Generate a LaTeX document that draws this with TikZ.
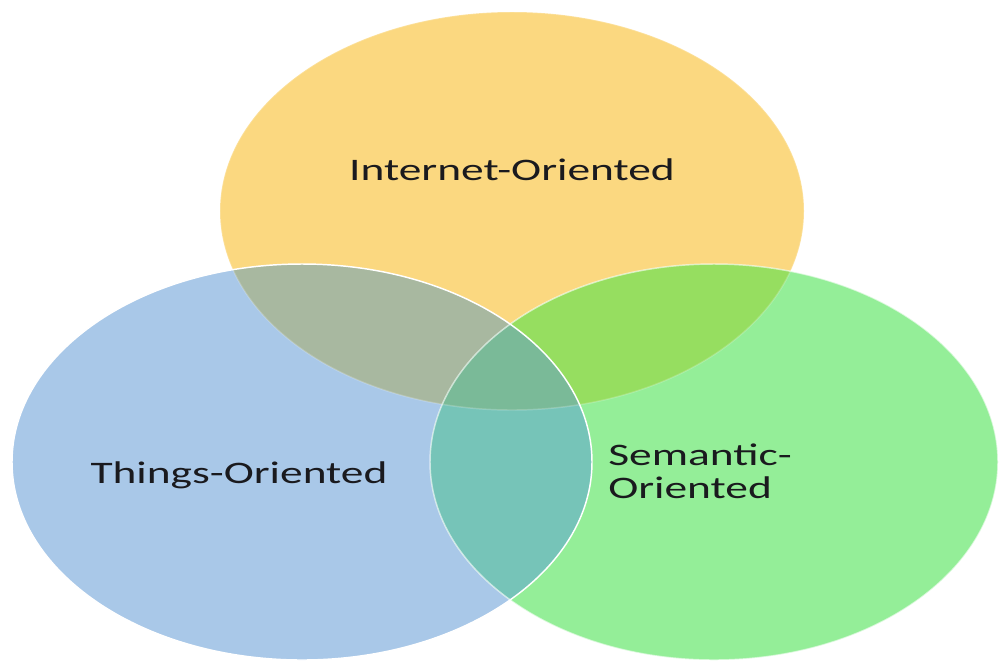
\documentclass[tikz,border=0pt]{standalone}
\usepackage{fontspec}
\setmainfont{Carlito}
\definecolor{cY}{HTML}{FBD880}
\definecolor{cB}{HTML}{A9C8E8}
\definecolor{cG}{HTML}{94EE98}
\definecolor{cYB}{HTML}{A8B8A0}
\definecolor{cYG}{HTML}{96DE60}
\definecolor{cBG}{HTML}{76C4B8}
\definecolor{cC}{HTML}{7ABA98}
\definecolor{txt}{HTML}{1A1A1E}
\begin{document}
\begin{tikzpicture}[x=0.75pt,y=-0.75pt,
  lbl/.style={text=txt,font=\fontsize{23.5}{24.8}\selectfont,inner sep=0pt},
  rim/.style={draw=white,line width=1.1pt}]
\useasboundingbox (0,0) rectangle (999,662);
\def\Ypath{(512,211) ellipse [x radius=292,y radius=199]}
\def\Bpath{(302,462) ellipse [x radius=290,y radius=198]}
\def\Gpath{(714,462) ellipse [x radius=284,y radius=198]}
% base fills
\fill[cY] \Ypath;
\fill[cB] \Bpath;
\fill[cG] \Gpath;
% pairwise overlaps
\begin{scope}\clip \Ypath; \fill[cYB] \Bpath; \end{scope}
\begin{scope}\clip \Ypath; \fill[cYG] \Gpath; \end{scope}
\begin{scope}\clip \Bpath; \fill[cBG] \Gpath; \end{scope}
\begin{scope}\clip \Ypath; \clip \Bpath; \fill[cC] \Gpath; \end{scope}
% rims
\draw[rim,draw opacity=0.2] \Ypath;
\draw[rim,draw opacity=0.6] \Gpath;
\draw[rim] \Bpath;
% labels
\node[lbl] (inet) at (512,170) {\scalebox{1.45}[1]{Internet-Oriented}};
\node[lbl] (things) at (239,475) {\scalebox{1.45}[1]{Things-Oriented}};
\node[lbl,anchor=west] (sem) at (608,475) {\scalebox{1.45}[1]{\begin{tabular}{@{}l@{}}Semantic-\\Oriented\end{tabular}}};
\end{tikzpicture}
\end{document}
